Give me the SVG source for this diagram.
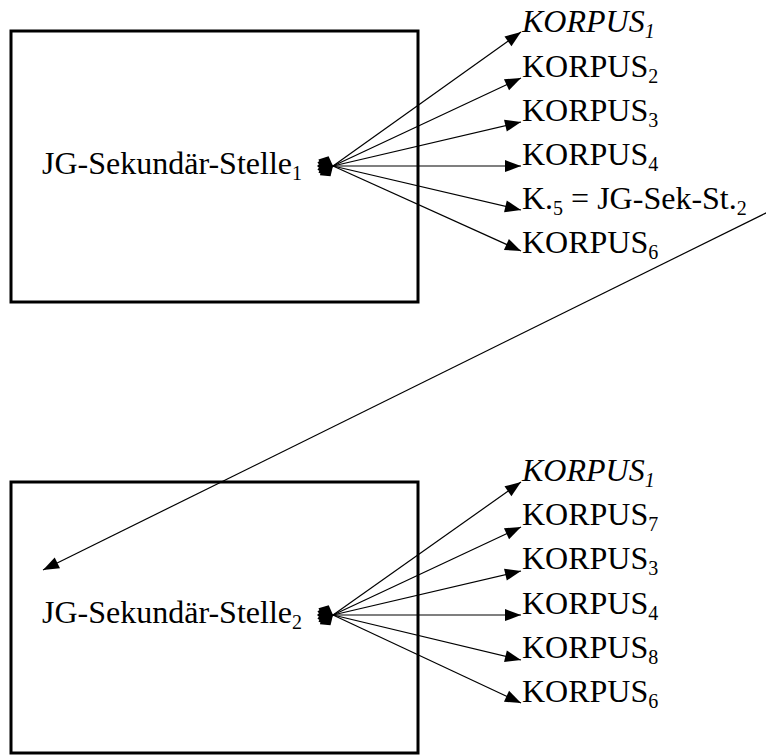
<svg xmlns="http://www.w3.org/2000/svg" width="766" height="755" viewBox="0 0 766 755">
<style>
  .box { fill: none; stroke: #000; stroke-width: 3; }
  .conn line { stroke: #000; stroke-width: 1.2; fill: none; }
  .fan line { marker-start: url(#diamond); marker-end: url(#arrow); }
</style>
<defs>
  <marker id="arrow" markerUnits="userSpaceOnUse" markerWidth="18" markerHeight="14" refX="16" refY="6" orient="auto" overflow="visible">
    <path d="M0,0 L16,6 L0,12 Z" fill="#000"/>
  </marker>
  <marker id="diamond" markerUnits="userSpaceOnUse" markerWidth="18" markerHeight="18" refX="0" refY="8" orient="auto-start-reverse" overflow="visible">
    <path d="M0,8 L8,1 L16,8 L8,15 Z" fill="#000"/>
  </marker>
</defs>

<g id="node-stelle1">
  <rect class="box" x="11" y="31" width="407" height="271"/>
  <text font-family="Liberation Serif, serif" font-size="32" x="42" y="174">JG-Sekundär-Stelle<tspan font-size="20" dy="6">1</tspan></text>
</g>
<g id="node-stelle2">
  <rect class="box" x="11" y="482" width="407" height="271"/>
  <text font-family="Liberation Serif, serif" font-size="32" x="42" y="623">JG-Sekundär-Stelle<tspan font-size="20" dy="6">2</tspan></text>
</g>

<g id="node-k1a"><text font-family="Liberation Serif, serif" font-size="32" font-style="italic" x="522" y="32">KORPUS<tspan font-size="20" dy="6">1</tspan></text></g>
<g id="node-k2"><text font-family="Liberation Serif, serif" font-size="32" x="522" y="77">KORPUS<tspan font-size="20" dy="6">2</tspan></text></g>
<g id="node-k3a"><text font-family="Liberation Serif, serif" font-size="32" x="522" y="121">KORPUS<tspan font-size="20" dy="6">3</tspan></text></g>
<g id="node-k4a"><text font-family="Liberation Serif, serif" font-size="32" x="522" y="165">KORPUS<tspan font-size="20" dy="6">4</tspan></text></g>
<g id="node-k5"><text font-family="Liberation Serif, serif" font-size="32" x="522" y="209">K.<tspan font-size="20" dy="6">5</tspan><tspan dy="-6"> = JG-Sek-St.</tspan><tspan font-size="20" dy="6">2</tspan></text></g>
<g id="node-k6a"><text font-family="Liberation Serif, serif" font-size="32" x="522" y="253">KORPUS<tspan font-size="20" dy="6">6</tspan></text></g>

<g id="node-k1b"><text font-family="Liberation Serif, serif" font-size="32" font-style="italic" x="522" y="481">KORPUS<tspan font-size="20" dy="6">1</tspan></text></g>
<g id="node-k7"><text font-family="Liberation Serif, serif" font-size="32" x="522" y="525">KORPUS<tspan font-size="20" dy="6">7</tspan></text></g>
<g id="node-k3b"><text font-family="Liberation Serif, serif" font-size="32" x="522" y="569">KORPUS<tspan font-size="20" dy="6">3</tspan></text></g>
<g id="node-k4b"><text font-family="Liberation Serif, serif" font-size="32" x="522" y="614">KORPUS<tspan font-size="20" dy="6">4</tspan></text></g>
<g id="node-k8"><text font-family="Liberation Serif, serif" font-size="32" x="522" y="658">KORPUS<tspan font-size="20" dy="6">8</tspan></text></g>
<g id="node-k6b"><text font-family="Liberation Serif, serif" font-size="32" x="522" y="702">KORPUS<tspan font-size="20" dy="6">6</tspan></text></g>

<g id="connectors" class="conn">
  <g id="fan1" class="fan">
    <line x1="333" y1="166" x2="521" y2="32"/>
    <line x1="333" y1="166" x2="521" y2="78"/>
    <line x1="333" y1="166" x2="521" y2="122"/>
    <line x1="333" y1="166" x2="521" y2="166"/>
    <line x1="333" y1="166" x2="521" y2="210"/>
    <line x1="333" y1="166" x2="521" y2="251"/>
  </g>
  <g id="fan2" class="fan">
    <line x1="333" y1="615" x2="521" y2="482"/>
    <line x1="333" y1="615" x2="521" y2="527"/>
    <line x1="333" y1="615" x2="521" y2="571"/>
    <line x1="333" y1="615" x2="521" y2="615"/>
    <line x1="333" y1="615" x2="521" y2="660"/>
    <line x1="333" y1="615" x2="521" y2="703"/>
  </g>
  <line x1="770" y1="211" x2="43" y2="570" marker-end="url(#arrow)"/>
</g>
</svg>
